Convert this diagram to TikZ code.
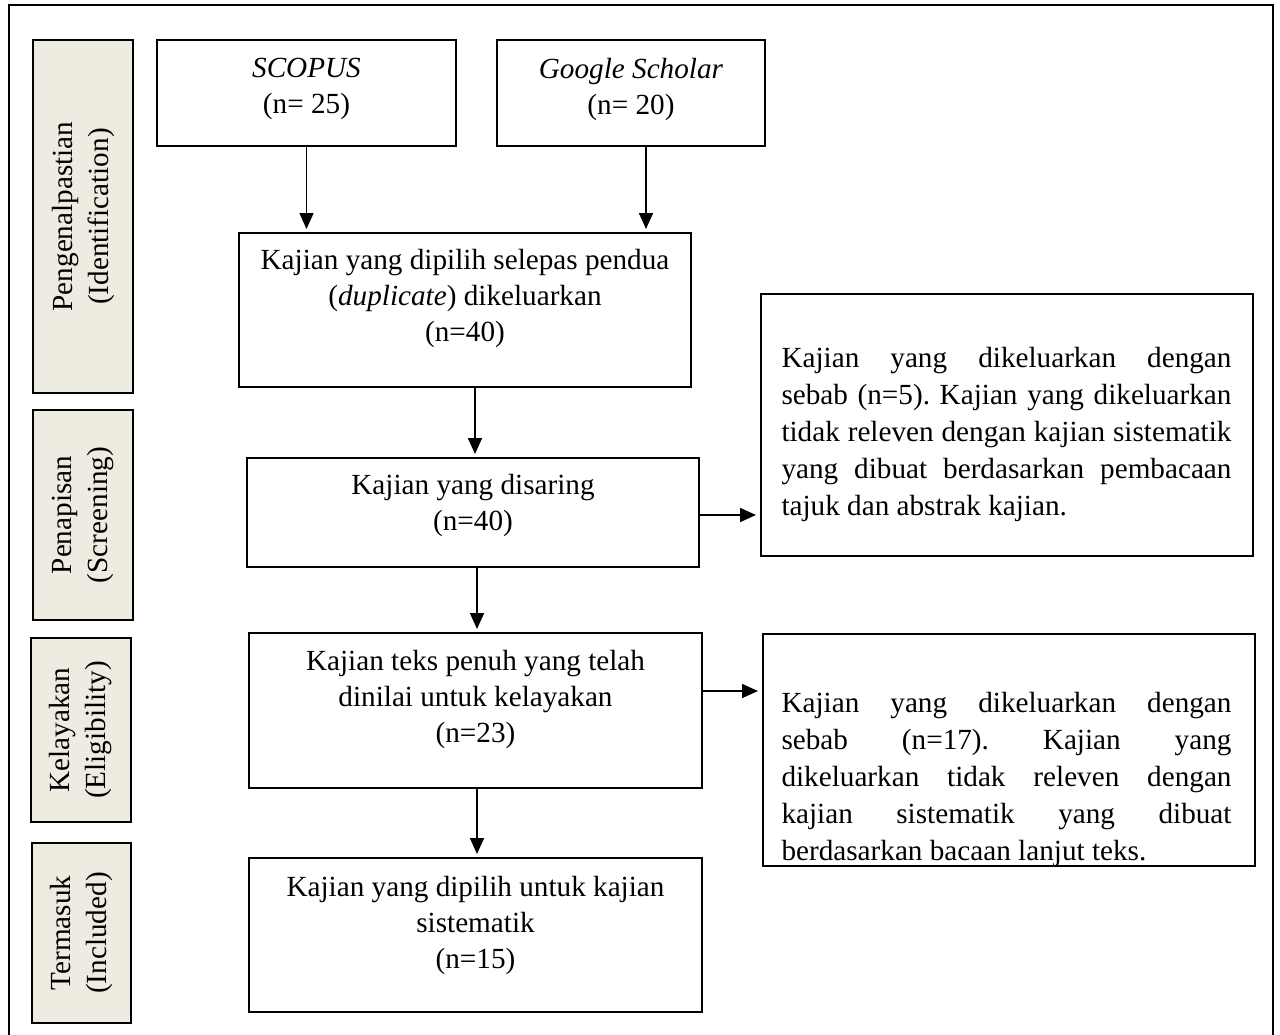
\documentclass[tikz,border=0pt]{standalone}
\usepackage{fontspec}
\setmainfont{Liberation Serif}
\usetikzlibrary{arrows.meta}
\definecolor{labeltan}{HTML}{EEECE1}
\frenchspacing
\newcommand{\flowfont}{\fontsize{14.6pt}{18pt}\selectfont}
\newcommand{\exfont}{\fontsize{14.6pt}{18.5pt}\selectfont}
\newcommand{\jl}[1]{\makebox[225pt][s]{#1}}
\tikzset{
  flowbox/.style={draw, line width=1pt, inner sep=0pt},
  phase/.style={draw, line width=1pt, fill=labeltan, inner sep=0pt, rotate=90, align=center, font=\flowfont},
  flowtext/.style={align=center, inner sep=0pt, font=\flowfont},
  extext/.style={align=left, inner sep=0pt, font=\exfont},
  arr/.style={-{Triangle[length=8pt,width=7pt]}, line width=0.8pt, shorten >=1.5pt},
}
\begin{document}
\begin{tikzpicture}[x=0.5pt, y=-0.5pt]
\useasboundingbox (0,0) rectangle (1280,1034);
% outer frame (bottom edge lies outside the picture)
\draw[line width=0.6pt] (9,1040) -- (9,5) -- (1273,5) -- (1273,1040);

% phase labels
\node[phase, minimum width=176.5pt, minimum height=50pt] (lid) at (83,216.5) {Pengenalpastian\\(Identification)};
\node[phase, minimum width=105pt, minimum height=50pt] (lsc) at (83,515) {Penapisan\\(Screening)};
\node[phase, minimum width=92pt, minimum height=50pt] (lel) at (81,730) {Kelayakan\\(Eligibility)};
\node[phase, minimum width=90pt, minimum height=49.5pt] (lin) at (81.5,933) {Termasuk\\(Included)};

% flow boxes
\node[flowbox, minimum width=149.5pt, minimum height=53pt] (scopus) at (306.5,93) {};
\node[flowbox, minimum width=134pt, minimum height=53pt] (gs) at (631,93) {};
\node[flowbox, minimum width=226pt, minimum height=77pt] (dup) at (465,310) {};
\node[flowbox, minimum width=226pt, minimum height=54.5pt] (scr) at (473,512.5) {};
\node[flowbox, minimum width=226.5pt, minimum height=77.5pt] (elig) at (475.5,710.5) {};
\node[flowbox, minimum width=226.5pt, minimum height=77pt] (incl) at (475.5,935) {};
\node[flowbox, minimum width=246pt, minimum height=131pt] (ex1) at (1007,425) {};
\node[flowbox, minimum width=246pt, minimum height=116pt] (ex2) at (1009,750) {};

% texts
\node[flowtext] (tscopus) at (306.5,89) {\textit{SCOPUS}\\(n= 25)};
\node[flowtext] (tgs) at (631,89) {\textit{Google Scholar}\\(n= 20)};
\node[flowtext] (tdup) at (465,298) {Kajian yang dipilih selepas pendua\\(\textit{duplicate}) dikeluarkan\\(n=40)};
\node[flowtext] (tscr) at (473,505) {Kajian yang disaring\\(n=40)};
\node[flowtext] (telig) at (475.5,699) {Kajian teks penuh yang telah\\dinilai untuk kelayakan\\(n=23)};
\node[flowtext] (tincl) at (475.5,925) {Kajian yang dipilih untuk kajian\\sistematik\\(n=15)};
\node[extext] (tex1) at (1006.5,434) {\jl{Kajian yang dikeluarkan dengan}\\\jl{sebab (n=5). Kajian yang dikeluarkan}\\\jl{tidak releven dengan kajian sistematik}\\\jl{yang dibuat berdasarkan pembacaan}\\tajuk dan abstrak kajian.};
\begin{scope}
\clip (ex2.south west) rectangle (ex2.north east);
\node[extext] (tex2) at (1006.5,779) {\jl{Kajian yang dikeluarkan dengan}\\\jl{sebab (n=17). Kajian yang}\\\jl{dikeluarkan tidak releven dengan}\\\jl{kajian sistematik yang dibuat}\\berdasarkan bacaan lanjut teks.};
\end{scope}

% connectors
\coordinate (a1) at (scopus.south);
\coordinate (a2) at ([xshift=7.5pt]gs.south);
\coordinate (a3) at ([xshift=5pt]dup.south);
\coordinate (a4) at ([xshift=2pt]scr.south);
\coordinate (a5) at ([xshift=0.75pt]elig.south);
\coordinate (a6) at ([yshift=-1.25pt]scr.east);
\coordinate (a7) at ([yshift=9.75pt]elig.east);
\draw[arr] (a1) -- (a1 |- dup.north);
\draw[arr] (a2) -- (a2 |- dup.north);
\draw[arr] (a3) -- (a3 |- scr.north);
\draw[arr] (a4) -- (a4 |- elig.north);
\draw[arr] (a5) -- (a5 |- incl.north);
\draw[arr, shorten >=2pt] (a6) -- (a6 -| ex1.west);
\draw[arr, shorten >=2pt] (a7) -- (a7 -| ex2.west);
\end{tikzpicture}
\end{document}
